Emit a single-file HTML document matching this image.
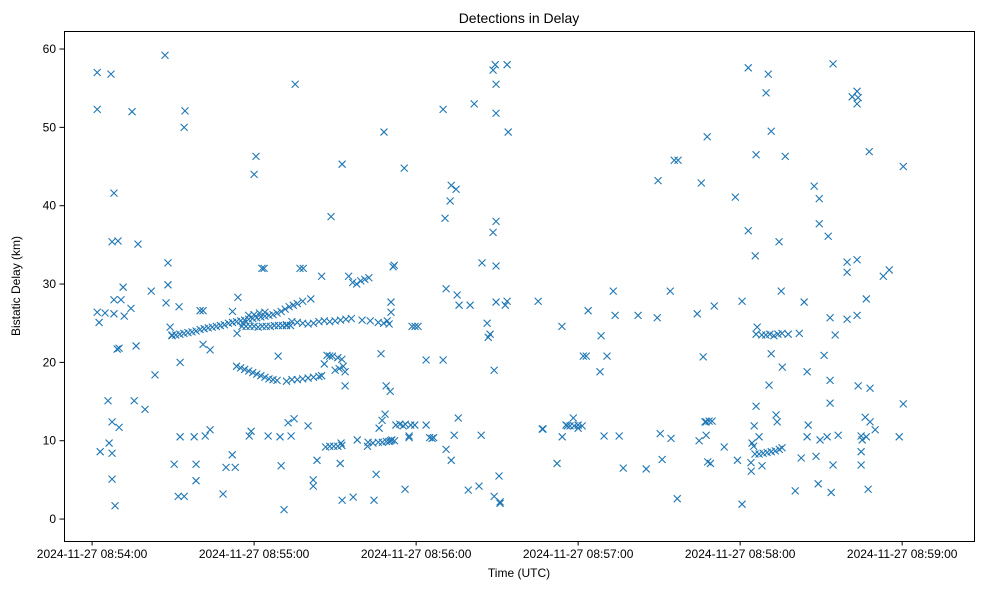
<!DOCTYPE html>
<html><head><meta charset="utf-8"><style>
html,body{margin:0;padding:0;background:#fff;}
svg text{font-family:"Liberation Sans","DejaVu Sans",sans-serif;fill:#000;}
</style></head><body>
<svg id="chart" width="984" height="590" viewBox="0 0 984 590" xmlns="http://www.w3.org/2000/svg">
<text x="519" y="23" font-size="14" text-anchor="middle">Detections in Delay</text>
<text x="519" y="577" font-size="12" text-anchor="middle">Time (UTC)</text>
<text transform="translate(20,286) rotate(-90)" font-size="12" text-anchor="middle">Bistatic Delay (km)</text>
<g id="marks"></g>
<g id="axes"></g>
<rect x="64.5" y="31.5" width="910" height="510" fill="none" stroke="#000" stroke-width="1"/>
</svg>
<script>
const xTickSeconds=[0,60,120,180,240,300];
const xTickLabels=["2024-11-27 08:54:00","2024-11-27 08:55:00","2024-11-27 08:56:00","2024-11-27 08:57:00","2024-11-27 08:58:00","2024-11-27 08:59:00"];
const yTicks=[0,10,20,30,40,50,60];
// seconds after 08:54:00
const detTimes=[1.9,1.9,7.0,1.9,2.6,4.8,3.0,5.9,6.3,7.4,7.4,7.4,8.5,8.1,7.4,9.6,8.1,8.1,9.3,10.0,10.7,11.5,11.9,10.0,14.4,14.8,16.3,17.0,15.6,19.6,21.9,23.3,27.0,27.4,28.1,28.9,29.6,
30.4,31.9,32.2,32.6,32.6,34.1,34.1,34.4,37.8,38.5,38.5,40.0,41.1,41.1,41.9,43.7,43.7,48.5,49.6,51.9,53.0,53.7,58.2,58.9,60.0,60.7,62.9,63.7,65.2,68.9,69.6,70.0,71.1,72.6,73.7,74.8,75.2,77.0,78.2,80.0,81.9,81.9,83.3,88.5,92.2,91.9,92.6,92.6,93.7,96.7,98.2,102.2,104.4,105.2,106.3,107.0,107.4,108.1,108.5,108.9,110.0,110.4,110.7,110.7,109.3,111.5,111.9,115.2,115.9,115.6,117.4,123.7,125.9,
130.0,130.0,130.7,131.1,131.1,133.0,132.6,133.0,134.1,134.8,135.2,135.6,135.9,139.3,140.0,141.5,143.3,144.1,144.4,146.3,146.7,147.4,148.5,148.5,149.3,149.6,149.6,149.6,149.6,148.9,149.6,148.9,151.1,151.1,150.7,153.0,153.7,154.1,153.7,
165.2,166.7,167.0,172.2,174.1,178.2,183.7,188.1,188.5,189.6,190.7,193.0,193.7,195.2,196.7,202.2,205.2,209.3,209.6,210.4,211.1,214.1,214.4,215.6,216.7,217.0,224.1,224.8,225.6,227.4,227.8,230.4,234.1,238.2,239.0,240.7,240.7,243.0,243.0,244.1,244.4,245.2,245.6,245.9,245.9,246.3,245.9,247.0,248.1,249.6,250.4,250.7,251.5,251.5,253.3,253.7,254.4,255.2,255.6,256.7,257.8,260.4,261.9,262.6,263.7,264.8,264.8,265.2,267.4,268.1,268.9,269.3,269.3,269.6,271.1,272.2,272.6,273.3,273.3,273.3,273.7,274.4,275.2,274.4,276.3,279.6,279.6,279.6,281.5,283.3,283.7,283.3,283.3,283.3,283.7,284.8,284.8,284.8,285.2,286.3,286.7,286.7,287.4,287.8,288.1,288.1,290.0,293.0,295.2,298.9,300.4,300.4,
28.1,29.6,31,32.5,34,35.5,37,38.5,40,41.5,43,44.5,46,47.5,49,50.5,52,53.5,55,56.5,58,59.5,61,62.5,64,65.5,67,68.5,70,71.5,73,74.5,76,78,81,
54,55.5,57,58.5,60,61.5,63,64.5,66,67.5,69,70.5,72,73.5,
72,74,76,78,80,82,84,86,88,90,92,94,96,100,103,106,108,110,56,58,60,62,64,
52,53.5,55,56.5,58,59.5,61,62.5,64,65.5,67,68.5,72,74,76,78,80,82,84,
85,87,89,91,92.5,88,90,91.5,93,86,93.7,95,96.5,98,99.5,101,102.5,
85,86.5,88,89.5,91,92.5,102,104,106,107.5,109,110.5,112,111,112.5,114,116,118,119.5,123.7,125,126.5,117.4,118.5,119.6,120.7,
174,175.5,177,178.5,180,181.5,176,180,181.9,183,226.3,227.4,228.5,229.6,227,228,229,
244,245.5,247,248.5,250,251.5,253,254.5,255.5,245,248,249.5,251,252.5,254,255.5];
const detKm=[57.0,52.3,56.8,26.4,25.1,26.3,8.6,15.1,9.7,12.4,8.4,5.1,1.7,41.6,35.4,35.5,28.0,26.2,21.7,21.8,28.0,29.6,25.9,11.7,26.9,52.0,22.1,35.1,15.1,14.0,29.1,18.4,59.2,27.6,32.7,24.5,23.5,
7.0,2.9,27.1,10.5,20.0,2.9,50.0,52.1,10.5,7.0,4.9,26.6,26.6,22.3,10.6,21.6,11.4,3.2,6.6,8.2,6.6,23.7,10.6,11.2,44.0,46.3,32.0,32.0,10.6,20.8,10.5,6.8,1.2,12.3,10.6,12.8,55.5,32.0,32.0,11.9,5.0,4.2,7.5,38.6,9.7,7.1,45.3,2.4,17.0,2.8,10.1,9.8,2.4,5.7,11.6,21.1,12.6,49.4,13.4,17.0,9.9,16.3,27.7,26.4,25.3,32.2,32.4,11.9,3.8,44.8,10.6,20.3,10.3,20.3,
52.3,38.4,29.4,8.9,42.6,40.6,7.5,10.7,42.1,28.6,12.9,27.3,3.7,27.3,53.0,4.2,10.7,32.7,25.0,23.2,23.6,36.6,57.3,58.0,55.5,51.8,38.0,32.3,19.0,27.7,2.9,2.0,2.2,5.5,27.3,27.8,49.4,58.0,27.8,
11.5,11.5,7.1,10.5,12.9,26.6,18.8,23.4,10.6,20.8,29.1,26.0,10.6,6.5,26.0,6.4,25.7,43.2,10.9,7.6,29.1,10.3,45.8,2.6,45.8,26.2,10.0,42.9,10.7,48.8,27.2,9.2,41.1,7.5,1.9,27.8,57.6,36.8,6.1,9.7,11.9,33.6,23.6,46.5,24.5,14.4,10.5,6.8,54.4,56.8,17.1,49.5,21.1,13.3,12.4,35.4,29.1,19.4,46.3,23.6,3.6,23.7,7.8,27.7,10.5,18.8,12.0,42.5,8.0,4.5,40.9,37.7,10.1,20.9,10.5,36.1,25.7,14.8,17.7,3.4,6.9,23.5,58.1,10.7,25.5,31.5,32.8,53.9,54.6,53.8,53.0,33.1,26.0,17.0,10.6,8.6,6.9,10.1,13.0,10.5,28.1,3.8,46.9,12.4,16.7,11.4,31.0,31.8,10.5,14.7,45.0,29.9,
23.4,23.5,23.6,23.7,23.8,23.9,24.0,24.2,24.3,24.4,24.5,24.6,24.7,24.8,25.0,25.1,25.2,25.3,25.4,25.5,25.6,25.7,25.8,25.9,26.0,26.1,26.3,26.5,26.8,27.1,27.3,27.5,27.8,28.1,28.3,
24.6,24.6,24.6,24.6,24.5,24.6,24.6,24.6,24.7,24.7,24.7,24.8,24.7,24.7,
25.2,25.1,25.0,24.9,25.0,25.2,25.3,25.2,25.3,25.4,25.5,25.6,25.4,25.3,25.1,25.0,24.9,25.0,26.0,26.1,26.3,26.4,26.5,
19.5,19.3,19.1,18.9,18.7,18.5,18.3,18.1,17.9,17.8,17.7,17.6,17.8,17.8,17.9,18.0,18.1,18.2,18.3,
20.9,20.8,20.6,20.4,20.8,19.0,19.2,19.5,19.8,18.8,31.0,30.2,30.0,30.4,30.6,30.8,31.0,
9.2,9.3,9.3,9.3,9.4,9.3,9.7,9.8,9.8,9.9,10.0,10.0,10.1,12.0,12.1,12.1,12.0,12.0,12.0,10.4,10.4,10.4,24.6,24.6,24.6,24.6,
12.0,11.9,11.9,12.0,11.9,11.9,11.6,20.8,20.8,20.7,12.4,12.5,12.5,12.4,7.3,7.1,7.2,
8.3,8.3,8.4,8.5,8.6,8.7,8.9,9.1,9.3,23.5,23.5,23.6,23.4,23.6,23.7,23.7];

const X0=64,X1=974,Y0=541,Y1=31;
const xMin=-10.4,xMax=326.6,yMin=-2.8,yMax=62.3;
function xScale(t){return X0+(t-xMin)/(xMax-xMin)*(X1-X0);}
function yScale(v){return Y0-(v-yMin)/(yMax-yMin)*(Y0-Y1);}
const NS="http://www.w3.org/2000/svg";
const marks=document.getElementById('marks');
const axes=document.getElementById('axes');
const n=Math.min(detTimes.length,detKm.length);
const h=3.5;
for(let i=0;i<n;i++){
  const cx=xScale(detTimes[i]),cy=yScale(detKm[i]);
  const p=document.createElementNS(NS,'path');
  p.setAttribute('d',`M${cx-h},${cy-h}L${cx+h},${cy+h}M${cx-h},${cy+h}L${cx+h},${cy-h}`);
  p.setAttribute('stroke','#1f77b4');p.setAttribute('stroke-width','1.1');p.setAttribute('fill','none');
  
  
  marks.appendChild(p);
}
xTickSeconds.forEach((t,i)=>{
  const x=xScale(t);
  const l=document.createElementNS(NS,'line');
  l.setAttribute('x1',x);l.setAttribute('x2',x);l.setAttribute('y1',541);l.setAttribute('y2',545.5);l.setAttribute('stroke','#000');
  
  
  axes.appendChild(l);
  const tx=document.createElementNS(NS,'text');
  tx.setAttribute('x',x);tx.setAttribute('y',558);tx.setAttribute('font-size','12');tx.setAttribute('text-anchor','middle');
  tx.textContent=xTickLabels[i];
  
  
  axes.appendChild(tx);
});
yTicks.forEach(v=>{
  const y=yScale(v);
  const l=document.createElementNS(NS,'line');
  l.setAttribute('x1',59.5);l.setAttribute('x2',64);l.setAttribute('y1',y);l.setAttribute('y2',y);l.setAttribute('stroke','#000');
  
  
  axes.appendChild(l);
  const tx=document.createElementNS(NS,'text');
  tx.setAttribute('x',56);tx.setAttribute('y',y+4);tx.setAttribute('font-size','12');tx.setAttribute('text-anchor','end');
  tx.textContent=String(v);
  
  
  axes.appendChild(tx);
});
</script>
</body></html>
